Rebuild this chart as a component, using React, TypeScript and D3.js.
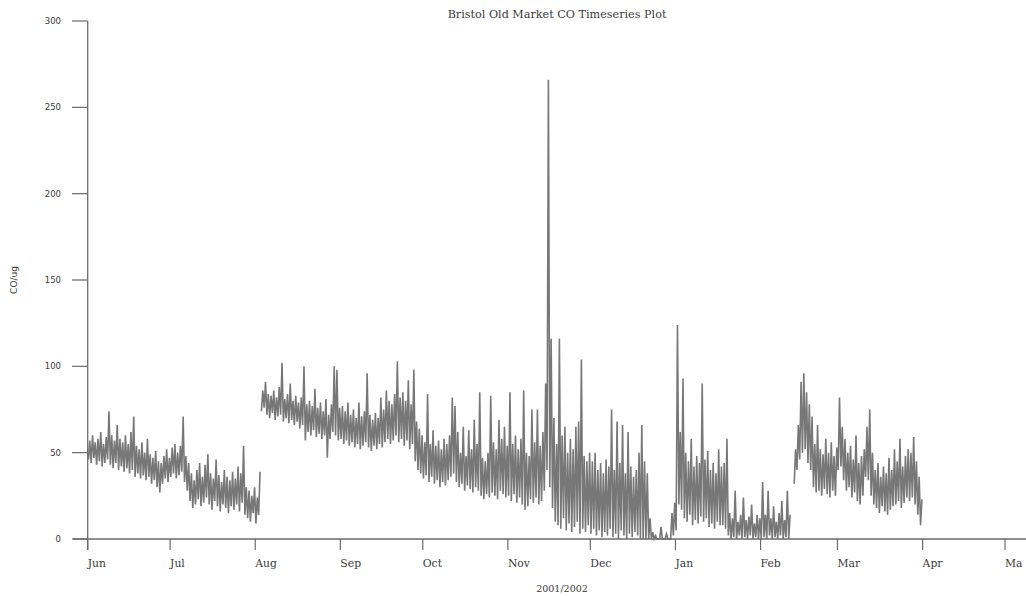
import React from "react";
import * as d3 from "d3";

// Daily [low, high] CO readings
const jun2001: (number[] | null)[] = [
  [46, 57], [44, 60], [47, 56], [43, 58], [45, 62], [42, 55], [44, 59], [46, 74], [43, 60], [41, 57],
  [44, 66], [40, 58], [42, 56], [39, 60], [41, 55], [38, 62], [40, 71], [36, 54], [38, 52], [35, 56],
  [37, 50], [34, 58], [36, 49], [32, 47], [34, 51], [30, 45], [27, 44], [32, 48], [35, 52], [33, 47],
];
const jul2001: (number[] | null)[] = [
  [36, 53], [38, 55], [35, 50], [37, 54], [39, 71], [33, 48], [28, 44], [22, 38], [18, 34], [20, 40],
  [23, 44], [19, 36], [21, 43], [24, 49], [20, 38], [17, 35], [22, 46], [19, 37], [16, 33], [20, 40],
  [18, 36], [15, 34], [19, 39], [17, 35], [20, 42], [16, 38], [21, 54], [14, 30], [12, 28], [10, 25],
  [15, 30],
];
const aug2001: (number[] | null)[] = [
  [9, 24], [14, 39], [74, 86], [76, 91], [72, 84], [70, 83], [73, 86], [69, 82], [71, 88], [72, 102],
  [68, 81], [70, 84], [67, 90], [69, 80], [66, 83], [68, 79], [64, 82], [66, 100], [57, 78], [62, 80],
  [60, 77], [63, 87], [59, 76], [61, 79], [58, 74], [60, 81], [47, 72], [58, 78], [62, 100], [60, 98],
  [57, 76],
];
const sep2001: (number[] | null)[] = [
  [58, 77], [55, 74], [57, 79], [54, 72], [56, 75], [53, 70], [55, 79], [52, 71], [54, 74], [56, 96],
  [53, 72], [51, 69], [54, 73], [52, 70], [55, 82], [53, 75], [56, 86], [58, 80], [55, 78], [57, 84],
  [60, 103], [56, 82], [58, 85], [54, 80], [57, 92], [52, 78], [55, 98], [45, 68], [40, 64], [38, 60],
];
const oct2001: (number[] | null)[] = [
  [35, 56], [37, 84], [33, 55], [36, 63], [32, 54], [34, 57], [30, 52], [33, 58], [31, 55], [34, 60],
  [36, 82], [38, 77], [33, 62], [30, 50], [32, 65], [28, 48], [31, 63], [29, 52], [27, 69], [30, 55],
  [28, 85], [25, 47], [23, 45], [26, 50], [24, 83], [27, 56], [25, 52], [23, 69], [28, 58], [26, 65],
  [24, 54],
];
const nov2001: (number[] | null)[] = [
  [25, 85], [22, 55], [26, 60], [21, 52], [24, 58], [20, 86], [17, 50], [19, 48], [23, 75], [21, 56],
  [24, 75], [20, 54], [22, 62], [28, 90], [40, 266], [30, 116], [18, 70], [10, 55], [8, 116], [6, 60],
  [12, 65], [5, 50], [9, 58], [4, 52], [7, 65], [10, 68], [3, 104], [6, 48], [4, 45], [8, 50],
];
const dec2001: (number[] | null)[] = [
  [3, 45], [6, 50], [2, 40], [5, 44], [1, 38], [4, 46], [2, 42], [6, 75], [1, 40], [3, 68],
  [0, 44], [5, 66], [2, 38], [0, 62], [3, 42], [1, 36], [4, 40], [2, 50], [0, 66], [0, 45],
  [0, 38], [0, 12], [0, 4], [0, 2], [0, 0], [0, 7], [0, 0], [0, 3], [0, 0], [0, 15],
  [2, 21],
];
const jan2002: (number[] | null)[] = [
  [5, 124], [20, 62], [17, 93], [12, 50], [10, 45], [14, 58], [8, 42], [11, 48], [9, 44], [13, 90],
  [10, 46], [12, 51], [7, 40], [9, 44], [6, 38], [10, 52], [8, 42], [8, 44], [6, 58], [2, 15],
  [0, 12], [1, 28], [0, 10], [2, 14], [0, 24], [1, 11], [0, 13], [2, 20], [0, 9], [1, 14],
  [0, 12],
];
const feb2002: (number[] | null)[] = [
  [0, 33], [1, 14], [0, 28], [2, 12], [0, 19], [1, 10], [0, 15], [2, 22], [0, 11], [1, 28],
  [0, 14], null, [32, 52], [40, 66], [46, 91], [50, 96], [52, 85], [44, 78], [40, 71], [30, 55],
  [27, 66], [28, 52], [25, 49], [29, 58], [26, 50], [24, 56], [28, 48], [25, 53],
];
const mar2002: (number[] | null)[] = [
  [40, 82], [42, 65], [34, 58], [28, 50], [30, 54], [24, 46], [27, 60], [22, 44], [20, 48], [25, 52],
  [36, 65], [34, 75], [25, 50], [20, 40], [18, 44], [15, 36], [19, 42], [16, 38], [14, 47], [17, 40],
  [19, 52], [20, 45], [22, 58], [18, 42], [21, 48], [24, 52], [22, 50], [24, 59], [20, 45], [14, 36],
  [8, 23],
];

// Days on which the record restarts after a break (no line drawn across the break)
const breakBefore = [Date.UTC(2001, 7, 3)];

const monthSeries = [
  { start: Date.UTC(2001, 5, 1), days: jun2001 },
  { start: Date.UTC(2001, 6, 1), days: jul2001 },
  { start: Date.UTC(2001, 7, 1), days: aug2001 },
  { start: Date.UTC(2001, 8, 1), days: sep2001 },
  { start: Date.UTC(2001, 9, 1), days: oct2001 },
  { start: Date.UTC(2001, 10, 1), days: nov2001 },
  { start: Date.UTC(2001, 11, 1), days: dec2001 },
  { start: Date.UTC(2002, 0, 1), days: jan2002 },
  { start: Date.UTC(2002, 1, 1), days: feb2002 },
  { start: Date.UTC(2002, 2, 1), days: mar2002 },
];

const monthLabels = ["Jun", "Jul", "Aug", "Sep", "Oct", "Nov", "Dec", "Jan", "Feb", "Mar", "Apr", "Ma"];
const monthTicks = monthLabels.map((_, i) => new Date(Date.UTC(2001, 5 + i, 1)));
const yTicks = [0, 50, 100, 150, 200, 250, 300];

const title = "Bristol Old Market CO Timeseries Plot";
const xTitle = "2001/2002";
const yTitle = "CO/ug";

type Pt = { t: Date; v: number | null };

export default function App() {
  const W = 1026;
  const H = 596;
  const x = d3
    .scaleUtc()
    .domain([new Date(Date.UTC(2001, 5, 1)), new Date(Date.UTC(2002, 4, 1))])
    .range([87.7, 1005]);
  const y = d3.scaleLinear().domain([0, 300]).range([539, 21]);

  const pts: Pt[] = [];
  const HOUR = 3600 * 1000;
  monthSeries.forEach((m) => {
    m.days.forEach((d, i) => {
      const base = m.start + i * 24 * HOUR;
      if (breakBefore.includes(base)) {
        pts.push({ t: new Date(base), v: null });
      }
      if (d === null) {
        pts.push({ t: new Date(base + 12 * HOUR), v: null });
      } else {
        pts.push({ t: new Date(base + 6 * HOUR), v: d[0] });
        pts.push({ t: new Date(base + 18 * HOUR), v: d[1] });
      }
    });
  });

  const line = d3
    .line<Pt>()
    .defined((p) => p.v !== null)
    .x((p) => x(p.t))
    .y((p) => y(p.v as number));

  const axisColor = "#6a6a6a";
  const textColor = "#3a3a3a";
  const font = "'DejaVu Serif', serif";

  return (
    <svg
      width={W}
      height={H}
      style={{ position: "absolute", left: 0, top: 0, background: "#fff" }}
    >
      <rect x={0} y={0} width={W} height={H} fill="#fff" />
      <text x={557} y={18} textAnchor="middle" fontFamily={font} fontSize={11.2} fill={textColor}>
        {title}
      </text>

      {/* data */}
      <path d={line(pts) || ""} fill="none" stroke="#777" strokeWidth={1.6} strokeLinejoin="miter" />

      {/* y axis */}
      <line x1={x.range()[0]} x2={x.range()[0]} y1={y(300)} y2={550} stroke={axisColor} strokeWidth={1.3} />
      {yTicks.map((t) => (
        <g key={t}>
          <line x1={72} x2={x.range()[0]} y1={y(t)} y2={y(t)} stroke={axisColor} strokeWidth={1.2} />
          <text
            x={61}
            y={y(t) + 3}
            textAnchor="end"
            fontFamily="'DejaVu Sans', sans-serif"
            fontSize={8.5}
            fill={textColor}
          >
            {t}
          </text>
        </g>
      ))}
      <text
        transform={`translate(17, 280) rotate(-90)`}
        textAnchor="middle"
        fontFamily="'DejaVu Sans', sans-serif"
        fontSize={9}
        fill={textColor}
      >
        {yTitle}
      </text>

      {/* x axis */}
      <line x1={73} x2={W} y1={y(0)} y2={y(0)} stroke={axisColor} strokeWidth={1.3} />
      {monthTicks.map((d, i) => (
        <g key={i}>
          <line x1={x(d)} x2={x(d)} y1={y(0)} y2={550} stroke={axisColor} strokeWidth={1.2} />
          <text x={x(d)} y={567} textAnchor="start" fontFamily={font} fontSize={10.8} fill={textColor}>
            {monthLabels[i]}
          </text>
        </g>
      ))}
      <text x={562} y={592} textAnchor="middle" fontFamily={font} fontSize={9.5} fill={textColor}>
        {xTitle}
      </text>
    </svg>
  );
}
